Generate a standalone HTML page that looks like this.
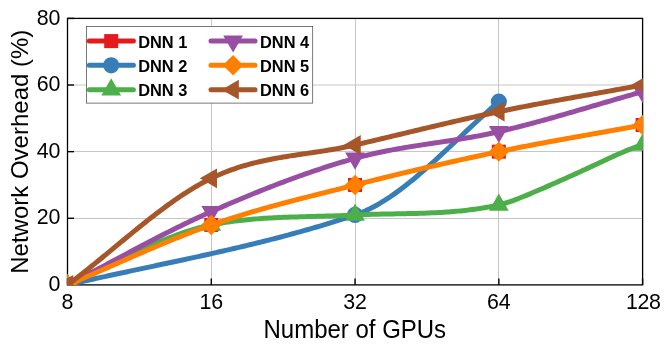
<!DOCTYPE html>
<html><head><meta charset="utf-8"><title>Network Overhead</title>
<style>html,body{margin:0;padding:0;background:#fff;}svg{display:block;will-change:transform;}</style>
</head><body>
<svg width="664" height="346" viewBox="0 0 664 346">
<rect width="664" height="346" fill="#fff"/>
<defs><clipPath id="ax"><rect x="67.05" y="17.95" width="576.00" height="267.40"/></clipPath></defs>
<g stroke="#c6c6c6" stroke-width="1"><line x1="211.50" y1="18.40" x2="211.50" y2="284.90"/><line x1="355.50" y1="18.40" x2="355.50" y2="284.90"/><line x1="498.50" y1="18.40" x2="498.50" y2="284.90"/><line x1="67.50" y1="218.50" x2="642.60" y2="218.50"/><line x1="67.50" y1="151.50" x2="642.60" y2="151.50"/><line x1="67.50" y1="85.00" x2="642.60" y2="85.00"/></g>
<g stroke="#000" stroke-width="1.4"><line x1="67.50" y1="284.90" x2="67.50" y2="278.40"/><line x1="211.28" y1="284.90" x2="211.28" y2="278.40"/><line x1="355.05" y1="284.90" x2="355.05" y2="278.40"/><line x1="498.83" y1="284.90" x2="498.83" y2="278.40"/><line x1="642.60" y1="284.90" x2="642.60" y2="278.40"/><line x1="67.50" y1="284.90" x2="74.00" y2="284.90"/><line x1="67.50" y1="218.27" x2="74.00" y2="218.27"/><line x1="67.50" y1="151.65" x2="74.00" y2="151.65"/><line x1="67.50" y1="85.02" x2="74.00" y2="85.02"/><line x1="67.50" y1="18.40" x2="74.00" y2="18.40"/></g>
<rect x="67.50" y="18.40" width="575.10" height="266.50" fill="none" stroke="#000" stroke-width="1.3"/>
<g clip-path="url(#ax)">
<path d="M67.50 284.90 L69.90 283.90 L72.29 282.89 L74.69 281.88 L77.09 280.86 L79.48 279.84 L81.88 278.81 L84.27 277.78 L86.67 276.75 L89.07 275.71 L91.46 274.67 L93.86 273.63 L96.25 272.59 L98.65 271.54 L101.05 270.49 L103.44 269.44 L105.84 268.39 L108.24 267.34 L110.63 266.28 L113.03 265.23 L115.42 264.17 L117.82 263.12 L120.22 262.06 L122.61 261.01 L125.01 259.96 L127.41 258.90 L129.80 257.85 L132.20 256.80 L134.59 255.76 L136.99 254.71 L139.39 253.67 L141.78 252.63 L144.18 251.59 L146.58 250.56 L148.97 249.53 L151.37 248.50 L153.76 247.48 L156.16 246.47 L158.56 245.45 L160.95 244.45 L163.35 243.44 L165.75 242.45 L168.14 241.46 L170.54 240.47 L172.94 239.49 L175.33 238.52 L177.73 237.56 L180.12 236.60 L182.52 235.65 L184.92 234.71 L187.31 233.77 L189.71 232.85 L192.11 231.93 L194.50 231.02 L196.90 230.12 L199.29 229.23 L201.69 228.35 L204.09 227.48 L206.48 226.62 L208.88 225.78 L211.28 224.94 L213.67 224.11 L216.07 223.29 L218.46 222.48 L220.86 221.68 L223.26 220.89 L225.65 220.10 L228.05 219.32 L230.44 218.56 L232.84 217.79 L235.24 217.04 L237.63 216.30 L240.03 215.56 L242.43 214.83 L244.82 214.10 L247.22 213.38 L249.62 212.67 L252.01 211.97 L254.41 211.27 L256.80 210.57 L259.20 209.89 L261.60 209.20 L263.99 208.53 L266.39 207.86 L268.78 207.19 L271.18 206.53 L273.58 205.87 L275.97 205.22 L278.37 204.57 L280.77 203.92 L283.16 203.28 L285.56 202.65 L287.95 202.01 L290.35 201.38 L292.75 200.76 L295.14 200.13 L297.54 199.51 L299.94 198.90 L302.33 198.28 L304.73 197.67 L307.12 197.05 L309.52 196.44 L311.92 195.84 L314.31 195.23 L316.71 194.62 L319.11 194.02 L321.50 193.42 L323.90 192.81 L326.30 192.21 L328.69 191.61 L331.09 191.01 L333.48 190.41 L335.88 189.80 L338.28 189.20 L340.67 188.60 L343.07 188.00 L345.47 187.39 L347.86 186.79 L350.26 186.18 L352.65 185.57 L355.05 184.96 L357.45 184.35 L359.84 183.74 L362.24 183.14 L364.63 182.53 L367.03 181.93 L369.43 181.33 L371.82 180.73 L374.22 180.14 L376.62 179.54 L379.01 178.95 L381.41 178.36 L383.81 177.77 L386.20 177.18 L388.60 176.59 L390.99 176.01 L393.39 175.43 L395.79 174.85 L398.18 174.27 L400.58 173.69 L402.98 173.12 L405.37 172.55 L407.77 171.97 L410.16 171.41 L412.56 170.84 L414.96 170.27 L417.35 169.71 L419.75 169.15 L422.15 168.59 L424.54 168.03 L426.94 167.47 L429.33 166.92 L431.73 166.37 L434.13 165.82 L436.52 165.27 L438.92 164.72 L441.32 164.18 L443.71 163.63 L446.11 163.09 L448.50 162.55 L450.90 162.01 L453.30 161.48 L455.69 160.94 L458.09 160.41 L460.49 159.88 L462.88 159.35 L465.28 158.83 L467.67 158.30 L470.07 157.78 L472.47 157.26 L474.86 156.74 L477.26 156.22 L479.66 155.71 L482.05 155.19 L484.45 154.68 L486.84 154.17 L489.24 153.66 L491.64 153.16 L494.03 152.65 L496.43 152.15 L498.83 151.65 L501.22 151.15 L503.62 150.66 L506.01 150.17 L508.41 149.68 L510.81 149.20 L513.20 148.72 L515.60 148.24 L518.00 147.76 L520.39 147.29 L522.79 146.82 L525.18 146.36 L527.58 145.89 L529.98 145.43 L532.37 144.97 L534.77 144.52 L537.16 144.07 L539.56 143.61 L541.96 143.17 L544.35 142.72 L546.75 142.27 L549.15 141.83 L551.54 141.39 L553.94 140.95 L556.34 140.51 L558.73 140.07 L561.13 139.64 L563.52 139.20 L565.92 138.77 L568.32 138.34 L570.71 137.91 L573.11 137.48 L575.50 137.05 L577.90 136.62 L580.30 136.19 L582.69 135.77 L585.09 135.34 L587.49 134.91 L589.88 134.49 L592.28 134.06 L594.67 133.64 L597.07 133.21 L599.47 132.79 L601.86 132.36 L604.26 131.93 L606.66 131.51 L609.05 131.08 L611.45 130.65 L613.85 130.22 L616.24 129.79 L618.64 129.36 L621.03 128.93 L623.43 128.50 L625.83 128.07 L628.22 127.64 L630.62 127.20 L633.01 126.76 L635.41 126.32 L637.81 125.88 L640.20 125.44 L642.60 125.00" fill="none" stroke="#e41a1c" stroke-width="3.6" stroke-linejoin="round" stroke-linecap="round"/>
<rect x="60.50" y="277.90" width="14.00" height="14.00" fill="#e41a1c"/>
<rect x="204.28" y="217.94" width="14.00" height="14.00" fill="#e41a1c"/>
<rect x="348.05" y="177.96" width="14.00" height="14.00" fill="#e41a1c"/>
<rect x="491.83" y="144.65" width="14.00" height="14.00" fill="#e41a1c"/>
<rect x="635.60" y="118.00" width="14.00" height="14.00" fill="#e41a1c"/>
<path d="M67.50 284.90 L69.90 284.35 L72.29 283.80 L74.69 283.25 L77.09 282.70 L79.48 282.16 L81.88 281.62 L84.27 281.08 L86.67 280.54 L89.07 280.01 L91.46 279.47 L93.86 278.94 L96.25 278.41 L98.65 277.89 L101.05 277.36 L103.44 276.84 L105.84 276.32 L108.24 275.80 L110.63 275.28 L113.03 274.76 L115.42 274.24 L117.82 273.73 L120.22 273.21 L122.61 272.70 L125.01 272.19 L127.41 271.68 L129.80 271.17 L132.20 270.66 L134.59 270.15 L136.99 269.64 L139.39 269.13 L141.78 268.62 L144.18 268.11 L146.58 267.60 L148.97 267.10 L151.37 266.59 L153.76 266.08 L156.16 265.57 L158.56 265.07 L160.95 264.56 L163.35 264.05 L165.75 263.54 L168.14 263.03 L170.54 262.52 L172.94 262.01 L175.33 261.50 L177.73 260.98 L180.12 260.47 L182.52 259.96 L184.92 259.44 L187.31 258.92 L189.71 258.40 L192.11 257.88 L194.50 257.36 L196.90 256.84 L199.29 256.32 L201.69 255.79 L204.09 255.26 L206.48 254.73 L208.88 254.20 L211.28 253.67 L213.67 253.13 L216.07 252.60 L218.46 252.06 L220.86 251.51 L223.26 250.97 L225.65 250.42 L228.05 249.87 L230.44 249.32 L232.84 248.77 L235.24 248.21 L237.63 247.65 L240.03 247.08 L242.43 246.52 L244.82 245.95 L247.22 245.37 L249.62 244.80 L252.01 244.22 L254.41 243.63 L256.80 243.05 L259.20 242.46 L261.60 241.86 L263.99 241.27 L266.39 240.66 L268.78 240.06 L271.18 239.45 L273.58 238.83 L275.97 238.22 L278.37 237.59 L280.77 236.97 L283.16 236.34 L285.56 235.70 L287.95 235.06 L290.35 234.42 L292.75 233.77 L295.14 233.11 L297.54 232.45 L299.94 231.79 L302.33 231.12 L304.73 230.44 L307.12 229.76 L309.52 229.08 L311.92 228.39 L314.31 227.69 L316.71 226.99 L319.11 226.28 L321.50 225.57 L323.90 224.85 L326.30 224.13 L328.69 223.40 L331.09 222.66 L333.48 221.92 L335.88 221.17 L338.28 220.41 L340.67 219.65 L343.07 218.88 L345.47 218.11 L347.86 217.33 L350.26 216.54 L352.65 215.75 L355.05 214.94 L357.45 214.11 L359.84 213.20 L362.24 212.24 L364.63 211.21 L367.03 210.12 L369.43 208.97 L371.82 207.76 L374.22 206.50 L376.62 205.19 L379.01 203.82 L381.41 202.40 L383.81 200.93 L386.20 199.41 L388.60 197.84 L390.99 196.23 L393.39 194.58 L395.79 192.88 L398.18 191.14 L400.58 189.37 L402.98 187.55 L405.37 185.70 L407.77 183.82 L410.16 181.90 L412.56 179.95 L414.96 177.97 L417.35 175.97 L419.75 173.93 L422.15 171.87 L424.54 169.79 L426.94 167.68 L429.33 165.55 L431.73 163.41 L434.13 161.24 L436.52 159.06 L438.92 156.87 L441.32 154.66 L443.71 152.44 L446.11 150.21 L448.50 147.97 L450.90 145.73 L453.30 143.48 L455.69 141.22 L458.09 138.96 L460.49 136.71 L462.88 134.45 L465.28 132.19 L467.67 129.94 L470.07 127.69 L472.47 125.45 L474.86 123.22 L477.26 121.00 L479.66 118.78 L482.05 116.59 L484.45 114.40 L486.84 112.23 L489.24 110.08 L491.64 107.95 L494.03 105.84 L496.43 103.75 L498.83 101.68" fill="none" stroke="#377eb8" stroke-width="5.0" stroke-linejoin="round" stroke-linecap="round"/>
<circle cx="67.50" cy="284.90" r="8.1" fill="#377eb8"/>
<circle cx="355.05" cy="214.94" r="8.1" fill="#377eb8"/>
<circle cx="498.83" cy="101.68" r="8.1" fill="#377eb8"/>
<path d="M67.50 284.90 L69.90 283.89 L72.29 282.87 L74.69 281.83 L77.09 280.77 L79.48 279.70 L81.88 278.62 L84.27 277.53 L86.67 276.43 L89.07 275.31 L91.46 274.19 L93.86 273.05 L96.25 271.91 L98.65 270.76 L101.05 269.61 L103.44 268.45 L105.84 267.29 L108.24 266.12 L110.63 264.95 L113.03 263.78 L115.42 262.61 L117.82 261.43 L120.22 260.26 L122.61 259.09 L125.01 257.92 L127.41 256.76 L129.80 255.60 L132.20 254.45 L134.59 253.30 L136.99 252.16 L139.39 251.03 L141.78 249.90 L144.18 248.79 L146.58 247.68 L148.97 246.59 L151.37 245.51 L153.76 244.44 L156.16 243.38 L158.56 242.34 L160.95 241.32 L163.35 240.31 L165.75 239.32 L168.14 238.35 L170.54 237.39 L172.94 236.46 L175.33 235.55 L177.73 234.66 L180.12 233.79 L182.52 232.94 L184.92 232.12 L187.31 231.33 L189.71 230.56 L192.11 229.81 L194.50 229.10 L196.90 228.41 L199.29 227.75 L201.69 227.13 L204.09 226.53 L206.48 225.97 L208.88 225.43 L211.28 224.94 L213.67 224.47 L216.07 224.02 L218.46 223.58 L220.86 223.17 L223.26 222.78 L225.65 222.40 L228.05 222.04 L230.44 221.69 L232.84 221.36 L235.24 221.05 L237.63 220.76 L240.03 220.47 L242.43 220.20 L244.82 219.95 L247.22 219.71 L249.62 219.48 L252.01 219.27 L254.41 219.06 L256.80 218.87 L259.20 218.69 L261.60 218.52 L263.99 218.35 L266.39 218.20 L268.78 218.06 L271.18 217.93 L273.58 217.80 L275.97 217.68 L278.37 217.57 L280.77 217.47 L283.16 217.37 L285.56 217.27 L287.95 217.19 L290.35 217.10 L292.75 217.03 L295.14 216.95 L297.54 216.88 L299.94 216.81 L302.33 216.75 L304.73 216.68 L307.12 216.62 L309.52 216.56 L311.92 216.50 L314.31 216.44 L316.71 216.37 L319.11 216.31 L321.50 216.25 L323.90 216.18 L326.30 216.11 L328.69 216.04 L331.09 215.97 L333.48 215.89 L335.88 215.81 L338.28 215.72 L340.67 215.63 L343.07 215.53 L345.47 215.43 L347.86 215.32 L350.26 215.20 L352.65 215.08 L355.05 214.94 L357.45 214.84 L359.84 214.74 L362.24 214.65 L364.63 214.56 L367.03 214.48 L369.43 214.41 L371.82 214.34 L374.22 214.28 L376.62 214.22 L379.01 214.16 L381.41 214.11 L383.81 214.06 L386.20 214.02 L388.60 213.97 L390.99 213.93 L393.39 213.89 L395.79 213.84 L398.18 213.80 L400.58 213.76 L402.98 213.71 L405.37 213.66 L407.77 213.61 L410.16 213.56 L412.56 213.50 L414.96 213.44 L417.35 213.38 L419.75 213.31 L422.15 213.24 L424.54 213.16 L426.94 213.07 L429.33 212.98 L431.73 212.87 L434.13 212.77 L436.52 212.65 L438.92 212.52 L441.32 212.39 L443.71 212.24 L446.11 212.08 L448.50 211.92 L450.90 211.74 L453.30 211.54 L455.69 211.34 L458.09 211.12 L460.49 210.89 L462.88 210.65 L465.28 210.39 L467.67 210.12 L470.07 209.83 L472.47 209.52 L474.86 209.20 L477.26 208.86 L479.66 208.50 L482.05 208.13 L484.45 207.73 L486.84 207.32 L489.24 206.89 L491.64 206.43 L494.03 205.96 L496.43 205.47 L498.83 204.95 L501.22 204.36 L503.62 203.71 L506.01 203.00 L508.41 202.24 L510.81 201.43 L513.20 200.57 L515.60 199.67 L518.00 198.74 L520.39 197.78 L522.79 196.80 L525.18 195.82 L527.58 194.83 L529.98 193.83 L532.37 192.82 L534.77 191.81 L537.16 190.79 L539.56 189.76 L541.96 188.73 L544.35 187.69 L546.75 186.65 L549.15 185.61 L551.54 184.56 L553.94 183.50 L556.34 182.44 L558.73 181.38 L561.13 180.31 L563.52 179.24 L565.92 178.17 L568.32 177.09 L570.71 176.02 L573.11 174.94 L575.50 173.86 L577.90 172.77 L580.30 171.69 L582.69 170.59 L585.09 169.48 L587.49 168.37 L589.88 167.26 L592.28 166.14 L594.67 165.02 L597.07 163.90 L599.47 162.78 L601.86 161.66 L604.26 160.55 L606.66 159.44 L609.05 158.33 L611.45 157.24 L613.85 156.15 L616.24 155.07 L618.64 154.01 L621.03 152.96 L623.43 151.92 L625.83 150.90 L628.22 149.92 L630.62 148.98 L633.01 148.08 L635.41 147.23 L637.81 146.43 L640.20 145.68 L642.60 144.99" fill="none" stroke="#4daf4a" stroke-width="5.0" stroke-linejoin="round" stroke-linecap="round"/>
<polygon points="67.50,273.47 57.60,290.62 77.40,290.62" fill="#4daf4a"/>
<polygon points="211.28,213.51 201.38,230.65 221.18,230.65" fill="#4daf4a"/>
<polygon points="355.05,203.51 345.15,220.66 364.95,220.66" fill="#4daf4a"/>
<polygon points="498.83,193.52 488.93,210.67 508.73,210.67" fill="#4daf4a"/>
<polygon points="642.60,133.56 632.70,150.70 652.50,150.70" fill="#4daf4a"/>
<path d="M67.50 284.90 L69.90 283.68 L72.29 282.45 L74.69 281.21 L77.09 279.97 L79.48 278.73 L81.88 277.48 L84.27 276.23 L86.67 274.97 L89.07 273.72 L91.46 272.45 L93.86 271.19 L96.25 269.92 L98.65 268.65 L101.05 267.38 L103.44 266.11 L105.84 264.84 L108.24 263.56 L110.63 262.28 L113.03 261.01 L115.42 259.73 L117.82 258.45 L120.22 257.18 L122.61 255.90 L125.01 254.63 L127.41 253.35 L129.80 252.08 L132.20 250.81 L134.59 249.54 L136.99 248.27 L139.39 247.01 L141.78 245.75 L144.18 244.49 L146.58 243.23 L148.97 241.98 L151.37 240.73 L153.76 239.49 L156.16 238.25 L158.56 237.01 L160.95 235.79 L163.35 234.56 L165.75 233.34 L168.14 232.13 L170.54 230.92 L172.94 229.72 L175.33 228.53 L177.73 227.34 L180.12 226.16 L182.52 224.99 L184.92 223.83 L187.31 222.67 L189.71 221.52 L192.11 220.38 L194.50 219.25 L196.90 218.13 L199.29 217.02 L201.69 215.92 L204.09 214.83 L206.48 213.74 L208.88 212.67 L211.28 211.61 L213.67 210.56 L216.07 209.51 L218.46 208.46 L220.86 207.42 L223.26 206.39 L225.65 205.35 L228.05 204.32 L230.44 203.30 L232.84 202.28 L235.24 201.26 L237.63 200.25 L240.03 199.25 L242.43 198.25 L244.82 197.25 L247.22 196.26 L249.62 195.27 L252.01 194.29 L254.41 193.31 L256.80 192.34 L259.20 191.38 L261.60 190.42 L263.99 189.46 L266.39 188.52 L268.78 187.57 L271.18 186.64 L273.58 185.71 L275.97 184.78 L278.37 183.86 L280.77 182.95 L283.16 182.05 L285.56 181.15 L287.95 180.26 L290.35 179.37 L292.75 178.49 L295.14 177.62 L297.54 176.75 L299.94 175.90 L302.33 175.05 L304.73 174.20 L307.12 173.36 L309.52 172.54 L311.92 171.71 L314.31 170.90 L316.71 170.09 L319.11 169.30 L321.50 168.50 L323.90 167.72 L326.30 166.95 L328.69 166.18 L331.09 165.42 L333.48 164.67 L335.88 163.93 L338.28 163.20 L340.67 162.47 L343.07 161.76 L345.47 161.05 L347.86 160.35 L350.26 159.66 L352.65 158.98 L355.05 158.31 L357.45 157.66 L359.84 157.02 L362.24 156.39 L364.63 155.79 L367.03 155.20 L369.43 154.63 L371.82 154.07 L374.22 153.53 L376.62 153.00 L379.01 152.48 L381.41 151.98 L383.81 151.49 L386.20 151.01 L388.60 150.54 L390.99 150.09 L393.39 149.64 L395.79 149.21 L398.18 148.78 L400.58 148.36 L402.98 147.95 L405.37 147.55 L407.77 147.15 L410.16 146.76 L412.56 146.37 L414.96 145.99 L417.35 145.62 L419.75 145.25 L422.15 144.88 L424.54 144.52 L426.94 144.15 L429.33 143.79 L431.73 143.44 L434.13 143.08 L436.52 142.72 L438.92 142.36 L441.32 142.00 L443.71 141.64 L446.11 141.28 L448.50 140.91 L450.90 140.55 L453.30 140.17 L455.69 139.80 L458.09 139.42 L460.49 139.03 L462.88 138.64 L465.28 138.24 L467.67 137.83 L470.07 137.42 L472.47 137.00 L474.86 136.57 L477.26 136.13 L479.66 135.68 L482.05 135.22 L484.45 134.75 L486.84 134.27 L489.24 133.77 L491.64 133.26 L494.03 132.74 L496.43 132.21 L498.83 131.66 L501.22 131.10 L503.62 130.54 L506.01 129.96 L508.41 129.38 L510.81 128.80 L513.20 128.20 L515.60 127.61 L518.00 127.00 L520.39 126.39 L522.79 125.77 L525.18 125.15 L527.58 124.52 L529.98 123.89 L532.37 123.25 L534.77 122.61 L537.16 121.96 L539.56 121.31 L541.96 120.65 L544.35 119.99 L546.75 119.32 L549.15 118.66 L551.54 117.98 L553.94 117.31 L556.34 116.63 L558.73 115.95 L561.13 115.27 L563.52 114.58 L565.92 113.89 L568.32 113.20 L570.71 112.51 L573.11 111.81 L575.50 111.12 L577.90 110.42 L580.30 109.72 L582.69 109.02 L585.09 108.32 L587.49 107.61 L589.88 106.91 L592.28 106.21 L594.67 105.51 L597.07 104.80 L599.47 104.10 L601.86 103.40 L604.26 102.69 L606.66 101.99 L609.05 101.29 L611.45 100.59 L613.85 99.90 L616.24 99.20 L618.64 98.50 L621.03 97.81 L623.43 97.12 L625.83 96.43 L628.22 95.74 L630.62 95.06 L633.01 94.38 L635.41 93.70 L637.81 93.03 L640.20 92.36 L642.60 91.69" fill="none" stroke="#984ea3" stroke-width="5.0" stroke-linejoin="round" stroke-linecap="round"/>
<polygon points="67.50,296.33 57.60,279.18 77.40,279.18" fill="#984ea3"/>
<polygon points="211.28,223.04 201.38,205.90 221.18,205.90" fill="#984ea3"/>
<polygon points="355.05,169.74 345.15,152.60 364.95,152.60" fill="#984ea3"/>
<polygon points="498.83,143.09 488.93,125.95 508.73,125.95" fill="#984ea3"/>
<polygon points="642.60,103.12 632.70,85.97 652.50,85.97" fill="#984ea3"/>
<path d="M67.50 284.90 L69.90 283.90 L72.29 282.89 L74.69 281.88 L77.09 280.86 L79.48 279.84 L81.88 278.81 L84.27 277.78 L86.67 276.75 L89.07 275.71 L91.46 274.67 L93.86 273.63 L96.25 272.59 L98.65 271.54 L101.05 270.49 L103.44 269.44 L105.84 268.39 L108.24 267.34 L110.63 266.28 L113.03 265.23 L115.42 264.17 L117.82 263.12 L120.22 262.06 L122.61 261.01 L125.01 259.96 L127.41 258.90 L129.80 257.85 L132.20 256.80 L134.59 255.76 L136.99 254.71 L139.39 253.67 L141.78 252.63 L144.18 251.59 L146.58 250.56 L148.97 249.53 L151.37 248.50 L153.76 247.48 L156.16 246.47 L158.56 245.45 L160.95 244.45 L163.35 243.44 L165.75 242.45 L168.14 241.46 L170.54 240.47 L172.94 239.49 L175.33 238.52 L177.73 237.56 L180.12 236.60 L182.52 235.65 L184.92 234.71 L187.31 233.77 L189.71 232.85 L192.11 231.93 L194.50 231.02 L196.90 230.12 L199.29 229.23 L201.69 228.35 L204.09 227.48 L206.48 226.62 L208.88 225.78 L211.28 224.94 L213.67 224.11 L216.07 223.29 L218.46 222.48 L220.86 221.68 L223.26 220.89 L225.65 220.10 L228.05 219.32 L230.44 218.56 L232.84 217.79 L235.24 217.04 L237.63 216.30 L240.03 215.56 L242.43 214.83 L244.82 214.10 L247.22 213.38 L249.62 212.67 L252.01 211.97 L254.41 211.27 L256.80 210.57 L259.20 209.89 L261.60 209.20 L263.99 208.53 L266.39 207.86 L268.78 207.19 L271.18 206.53 L273.58 205.87 L275.97 205.22 L278.37 204.57 L280.77 203.92 L283.16 203.28 L285.56 202.65 L287.95 202.01 L290.35 201.38 L292.75 200.76 L295.14 200.13 L297.54 199.51 L299.94 198.90 L302.33 198.28 L304.73 197.67 L307.12 197.05 L309.52 196.44 L311.92 195.84 L314.31 195.23 L316.71 194.62 L319.11 194.02 L321.50 193.42 L323.90 192.81 L326.30 192.21 L328.69 191.61 L331.09 191.01 L333.48 190.41 L335.88 189.80 L338.28 189.20 L340.67 188.60 L343.07 188.00 L345.47 187.39 L347.86 186.79 L350.26 186.18 L352.65 185.57 L355.05 184.96 L357.45 184.35 L359.84 183.74 L362.24 183.14 L364.63 182.53 L367.03 181.93 L369.43 181.33 L371.82 180.73 L374.22 180.14 L376.62 179.54 L379.01 178.95 L381.41 178.36 L383.81 177.77 L386.20 177.18 L388.60 176.59 L390.99 176.01 L393.39 175.43 L395.79 174.85 L398.18 174.27 L400.58 173.69 L402.98 173.12 L405.37 172.55 L407.77 171.97 L410.16 171.41 L412.56 170.84 L414.96 170.27 L417.35 169.71 L419.75 169.15 L422.15 168.59 L424.54 168.03 L426.94 167.47 L429.33 166.92 L431.73 166.37 L434.13 165.82 L436.52 165.27 L438.92 164.72 L441.32 164.18 L443.71 163.63 L446.11 163.09 L448.50 162.55 L450.90 162.01 L453.30 161.48 L455.69 160.94 L458.09 160.41 L460.49 159.88 L462.88 159.35 L465.28 158.83 L467.67 158.30 L470.07 157.78 L472.47 157.26 L474.86 156.74 L477.26 156.22 L479.66 155.71 L482.05 155.19 L484.45 154.68 L486.84 154.17 L489.24 153.66 L491.64 153.16 L494.03 152.65 L496.43 152.15 L498.83 151.65 L501.22 151.15 L503.62 150.66 L506.01 150.17 L508.41 149.68 L510.81 149.20 L513.20 148.72 L515.60 148.24 L518.00 147.76 L520.39 147.29 L522.79 146.82 L525.18 146.36 L527.58 145.89 L529.98 145.43 L532.37 144.97 L534.77 144.52 L537.16 144.07 L539.56 143.61 L541.96 143.17 L544.35 142.72 L546.75 142.27 L549.15 141.83 L551.54 141.39 L553.94 140.95 L556.34 140.51 L558.73 140.07 L561.13 139.64 L563.52 139.20 L565.92 138.77 L568.32 138.34 L570.71 137.91 L573.11 137.48 L575.50 137.05 L577.90 136.62 L580.30 136.19 L582.69 135.77 L585.09 135.34 L587.49 134.91 L589.88 134.49 L592.28 134.06 L594.67 133.64 L597.07 133.21 L599.47 132.79 L601.86 132.36 L604.26 131.93 L606.66 131.51 L609.05 131.08 L611.45 130.65 L613.85 130.22 L616.24 129.79 L618.64 129.36 L621.03 128.93 L623.43 128.50 L625.83 128.07 L628.22 127.64 L630.62 127.20 L633.01 126.76 L635.41 126.32 L637.81 125.88 L640.20 125.44 L642.60 125.00" fill="none" stroke="#ff7f00" stroke-width="5.0" stroke-linejoin="round" stroke-linecap="round"/>
<polygon points="67.50,274.70 77.70,284.90 67.50,295.10 57.30,284.90" fill="#ff7f00"/>
<polygon points="211.28,214.74 221.47,224.94 211.28,235.14 201.08,224.94" fill="#ff7f00"/>
<polygon points="355.05,174.76 365.25,184.96 355.05,195.16 344.85,184.96" fill="#ff7f00"/>
<polygon points="498.83,141.45 509.03,151.65 498.83,161.85 488.63,151.65" fill="#ff7f00"/>
<polygon points="642.60,114.80 652.80,125.00 642.60,135.20 632.40,125.00" fill="#ff7f00"/>
<path d="M67.50 284.90 L69.90 283.11 L72.29 281.31 L74.69 279.48 L77.09 277.64 L79.48 275.78 L81.88 273.91 L84.27 272.02 L86.67 270.12 L89.07 268.21 L91.46 266.29 L93.86 264.35 L96.25 262.41 L98.65 260.46 L101.05 258.50 L103.44 256.53 L105.84 254.56 L108.24 252.59 L110.63 250.61 L113.03 248.63 L115.42 246.65 L117.82 244.67 L120.22 242.69 L122.61 240.72 L125.01 238.74 L127.41 236.77 L129.80 234.81 L132.20 232.85 L134.59 230.90 L136.99 228.95 L139.39 227.02 L141.78 225.10 L144.18 223.18 L146.58 221.28 L148.97 219.39 L151.37 217.52 L153.76 215.66 L156.16 213.82 L158.56 212.00 L160.95 210.19 L163.35 208.40 L165.75 206.64 L168.14 204.89 L170.54 203.17 L172.94 201.47 L175.33 199.80 L177.73 198.15 L180.12 196.52 L182.52 194.93 L184.92 193.36 L187.31 191.83 L189.71 190.32 L192.11 188.84 L194.50 187.40 L196.90 185.99 L199.29 184.62 L201.69 183.28 L204.09 181.98 L206.48 180.71 L208.88 179.49 L211.28 178.30 L213.67 177.15 L216.07 176.05 L218.46 174.98 L220.86 173.95 L223.26 172.96 L225.65 172.00 L228.05 171.08 L230.44 170.19 L232.84 169.33 L235.24 168.51 L237.63 167.71 L240.03 166.95 L242.43 166.21 L244.82 165.50 L247.22 164.82 L249.62 164.16 L252.01 163.53 L254.41 162.92 L256.80 162.33 L259.20 161.77 L261.60 161.22 L263.99 160.70 L266.39 160.19 L268.78 159.70 L271.18 159.22 L273.58 158.77 L275.97 158.32 L278.37 157.89 L280.77 157.47 L283.16 157.06 L285.56 156.67 L287.95 156.28 L290.35 155.90 L292.75 155.52 L295.14 155.16 L297.54 154.79 L299.94 154.44 L302.33 154.08 L304.73 153.73 L307.12 153.38 L309.52 153.03 L311.92 152.67 L314.31 152.32 L316.71 151.96 L319.11 151.60 L321.50 151.23 L323.90 150.86 L326.30 150.48 L328.69 150.09 L331.09 149.69 L333.48 149.28 L335.88 148.86 L338.28 148.43 L340.67 147.99 L343.07 147.53 L345.47 147.06 L347.86 146.57 L350.26 146.06 L352.65 145.53 L355.05 144.99 L357.45 144.43 L359.84 143.87 L362.24 143.31 L364.63 142.75 L367.03 142.19 L369.43 141.63 L371.82 141.06 L374.22 140.49 L376.62 139.93 L379.01 139.36 L381.41 138.79 L383.81 138.22 L386.20 137.65 L388.60 137.08 L390.99 136.50 L393.39 135.93 L395.79 135.36 L398.18 134.78 L400.58 134.21 L402.98 133.64 L405.37 133.06 L407.77 132.49 L410.16 131.92 L412.56 131.34 L414.96 130.77 L417.35 130.20 L419.75 129.63 L422.15 129.05 L424.54 128.48 L426.94 127.91 L429.33 127.35 L431.73 126.78 L434.13 126.21 L436.52 125.65 L438.92 125.08 L441.32 124.52 L443.71 123.96 L446.11 123.40 L448.50 122.84 L450.90 122.29 L453.30 121.73 L455.69 121.18 L458.09 120.63 L460.49 120.08 L462.88 119.53 L465.28 118.99 L467.67 118.45 L470.07 117.91 L472.47 117.37 L474.86 116.84 L477.26 116.31 L479.66 115.78 L482.05 115.26 L484.45 114.74 L486.84 114.22 L489.24 113.70 L491.64 113.19 L494.03 112.68 L496.43 112.18 L498.83 111.67 L501.22 111.18 L503.62 110.68 L506.01 110.19 L508.41 109.70 L510.81 109.22 L513.20 108.74 L515.60 108.26 L518.00 107.79 L520.39 107.32 L522.79 106.85 L525.18 106.38 L527.58 105.92 L529.98 105.46 L532.37 105.00 L534.77 104.54 L537.16 104.09 L539.56 103.64 L541.96 103.19 L544.35 102.74 L546.75 102.30 L549.15 101.85 L551.54 101.41 L553.94 100.97 L556.34 100.54 L558.73 100.10 L561.13 99.66 L563.52 99.23 L565.92 98.80 L568.32 98.36 L570.71 97.93 L573.11 97.50 L575.50 97.07 L577.90 96.65 L580.30 96.22 L582.69 95.79 L585.09 95.37 L587.49 94.94 L589.88 94.51 L592.28 94.09 L594.67 93.66 L597.07 93.24 L599.47 92.81 L601.86 92.38 L604.26 91.96 L606.66 91.53 L609.05 91.10 L611.45 90.68 L613.85 90.25 L616.24 89.82 L618.64 89.39 L621.03 88.96 L623.43 88.53 L625.83 88.09 L628.22 87.66 L630.62 87.22 L633.01 86.79 L635.41 86.35 L637.81 85.91 L640.20 85.47 L642.60 85.02" fill="none" stroke="#a65628" stroke-width="5.0" stroke-linejoin="round" stroke-linecap="round"/>
<polygon points="56.07,284.90 73.22,275.00 73.22,294.80" fill="#a65628"/>
<polygon points="199.84,178.30 216.99,168.40 216.99,188.20" fill="#a65628"/>
<polygon points="343.62,144.99 360.77,135.09 360.77,154.89" fill="#a65628"/>
<polygon points="487.39,111.67 504.54,101.77 504.54,121.57" fill="#a65628"/>
<polygon points="631.17,85.02 648.32,75.12 648.32,94.92" fill="#a65628"/>
</g>
<g font-family="'Liberation Sans', sans-serif" font-size="21.4px" fill="#000">
<text transform="translate(67.50,308.9) scale(1,1.07)" text-anchor="middle">8</text>
<text transform="translate(211.28,308.9) scale(1,1.07)" text-anchor="middle">16</text>
<text transform="translate(355.05,308.9) scale(1,1.07)" text-anchor="middle">32</text>
<text transform="translate(498.83,308.9) scale(1,1.07)" text-anchor="middle">64</text>
<text transform="translate(643.30,308.9) scale(1,1.07)" text-anchor="middle" letter-spacing="-0.4">128</text>
<text transform="translate(60.5,291.00) scale(1,1.07)" text-anchor="end">0</text>
<text transform="translate(60.5,224.37) scale(1,1.07)" text-anchor="end">20</text>
<text transform="translate(60.5,157.75) scale(1,1.07)" text-anchor="end">40</text>
<text transform="translate(60.5,91.12) scale(1,1.07)" text-anchor="end">60</text>
<text transform="translate(60.5,24.50) scale(1,1.07)" text-anchor="end">80</text>
</g>
<g font-family="'Liberation Sans', sans-serif" font-size="24px" fill="#000">
<text transform="translate(354.8,337.5) scale(1,1.05)" text-anchor="middle">Number of GPUs</text>
<text transform="translate(27.5,151.7) rotate(-90)" text-anchor="middle">Network Overhead (%)</text>
</g>
<rect x="86.6" y="26.5" width="226.1" height="76.6" fill="#fff" stroke="#4d4d4d" stroke-width="0.75"/>
<line x1="89.30" y1="41.10" x2="133.40" y2="41.10" stroke="#e41a1c" stroke-width="5.0" stroke-linecap="round"/>
<rect x="104.20" y="34.10" width="14.00" height="14.00" fill="#e41a1c"/>
<text x="138.20" y="47.50" font-family="'Liberation Sans', sans-serif" font-weight="bold" font-size="16.4px" fill="#000">DNN 1</text>
<line x1="89.30" y1="65.30" x2="133.40" y2="65.30" stroke="#377eb8" stroke-width="5.0" stroke-linecap="round"/>
<circle cx="111.20" cy="65.30" r="8.1" fill="#377eb8"/>
<text x="138.20" y="71.70" font-family="'Liberation Sans', sans-serif" font-weight="bold" font-size="16.4px" fill="#000">DNN 2</text>
<line x1="89.30" y1="89.70" x2="133.40" y2="89.70" stroke="#4daf4a" stroke-width="5.0" stroke-linecap="round"/>
<polygon points="111.20,78.27 101.30,95.42 121.10,95.42" fill="#4daf4a"/>
<text x="138.20" y="95.90" font-family="'Liberation Sans', sans-serif" font-weight="bold" font-size="16.4px" fill="#000">DNN 3</text>
<line x1="211.00" y1="41.10" x2="255.00" y2="41.10" stroke="#984ea3" stroke-width="5.0" stroke-linecap="round"/>
<polygon points="233.10,52.53 223.20,35.38 243.00,35.38" fill="#984ea3"/>
<text x="260.00" y="47.50" font-family="'Liberation Sans', sans-serif" font-weight="bold" font-size="16.4px" fill="#000">DNN 4</text>
<line x1="211.00" y1="65.30" x2="255.00" y2="65.30" stroke="#ff7f00" stroke-width="5.0" stroke-linecap="round"/>
<polygon points="233.10,55.10 243.30,65.30 233.10,75.50 222.90,65.30" fill="#ff7f00"/>
<text x="260.00" y="71.70" font-family="'Liberation Sans', sans-serif" font-weight="bold" font-size="16.4px" fill="#000">DNN 5</text>
<line x1="211.00" y1="89.70" x2="255.00" y2="89.70" stroke="#a65628" stroke-width="5.0" stroke-linecap="round"/>
<polygon points="221.67,89.70 238.82,79.80 238.82,99.60" fill="#a65628"/>
<text x="260.00" y="95.90" font-family="'Liberation Sans', sans-serif" font-weight="bold" font-size="16.4px" fill="#000">DNN 6</text>
</svg>
</body></html>
